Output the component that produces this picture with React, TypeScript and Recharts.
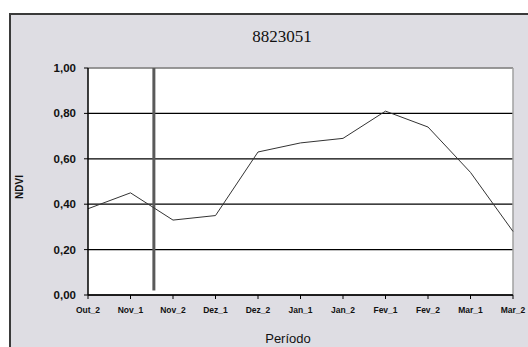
import React from "react"
import { LineChart, Line, XAxis, YAxis, CartesianGrid, ReferenceLine } from "recharts"

const categories = ["Out_2", "Nov_1", "Nov_2", "Dez_1", "Dez_2", "Jan_1", "Jan_2", "Fev_1", "Fev_2", "Mar_1", "Mar_2"]
const ndvi = [0.38, 0.45, 0.33, 0.35, 0.63, 0.67, 0.69, 0.81, 0.74, 0.54, 0.28]
const yTicks = [0, 0.2, 0.4, 0.6, 0.8, 1]
const markerPos = 1.55

const data = categories.map((c, i) => ({ i, name: c, ndvi: ndvi[i] }))

const fmtY = (v: number) => v.toFixed(2).replace(".", ",")

export default function App() {
  return (
    <div style={{ position: "fixed", left: 0, top: 0, width: 528, height: 347, background: "#fff", overflow: "hidden" }}>
      <div
        style={{
          position: "absolute",
          left: 9,
          top: 13,
          width: 540,
          height: 360,
          background: "#dedde3",
          border: "2px solid #3a3a3a",
          boxSizing: "border-box",
        }}
      />
      <div style={{ position: "absolute", left: 0, top: 0 }}>
        <LineChart width={528} height={347} data={data} margin={{ top: 68, right: 15, bottom: 22, left: 28 }}>
          <CartesianGrid vertical={false} stroke="#000" strokeWidth={1.2} fill="#fff" />
          <ReferenceLine y={1} stroke="#a0a0a0" strokeWidth={1.5} />
          <ReferenceLine x={10} stroke="#a0a0a0" strokeWidth={1.5} />
          <XAxis
            type="number"
            dataKey="i"
            domain={[0, 10]}
            ticks={categories.map((_, i) => i)}
            tickFormatter={(v: number) => categories[v]}
            interval={0}
            axisLine={{ stroke: "#000", strokeWidth: 1.5 }}
            tickLine={{ stroke: "#000" }}
            tickSize={4}
            tickMargin={8}
            height={30}
            tick={{ fontSize: 8.5, fontWeight: "bold", fill: "#111", fontFamily: "Liberation Sans" }}
          />
          <YAxis
            domain={[0, 1]}
            ticks={yTicks}
            tickFormatter={fmtY}
            width={60}
            axisLine={{ stroke: "#000", strokeWidth: 1.5 }}
            tickLine={{ stroke: "#000" }}
            tickSize={4}
            tickMargin={8}
            tick={{ fontSize: 11.5, fontWeight: "bold", fill: "#111", fontFamily: "Liberation Sans" }}
          />
          <ReferenceLine
            segment={[
              { x: markerPos, y: 0.02 },
              { x: markerPos, y: 1 },
            ]}
            stroke="#5a5a5a"
            strokeWidth={3}
          />
          <Line
            type="linear"
            dataKey="ndvi"
            stroke="#333"
            strokeWidth={1}
            dot={false}
            isAnimationActive={false}
          />
        </LineChart>
      </div>
      <div
        style={{
          position: "absolute",
          left: 182,
          width: 200,
          top: 27,
          textAlign: "center",
          fontFamily: "Liberation Serif",
          fontSize: 17,
          color: "#111",
        }}
      >
        8823051
      </div>
      <div
        style={{
          position: "absolute",
          left: 1,
          top: 180,
          width: 40,
          textAlign: "center",
          fontFamily: "Liberation Sans",
          fontSize: 10,
          fontWeight: "bold",
          color: "#111",
          transform: "rotate(-90deg)",
          transformOrigin: "20px 7px",
        }}
      >
        NDVI
      </div>
      <div
        style={{
          position: "absolute",
          left: 238,
          width: 100,
          top: 331,
          textAlign: "center",
          fontFamily: "Liberation Sans",
          fontSize: 13,
          color: "#111",
        }}
      >
        Período
      </div>
    </div>
  )
}
